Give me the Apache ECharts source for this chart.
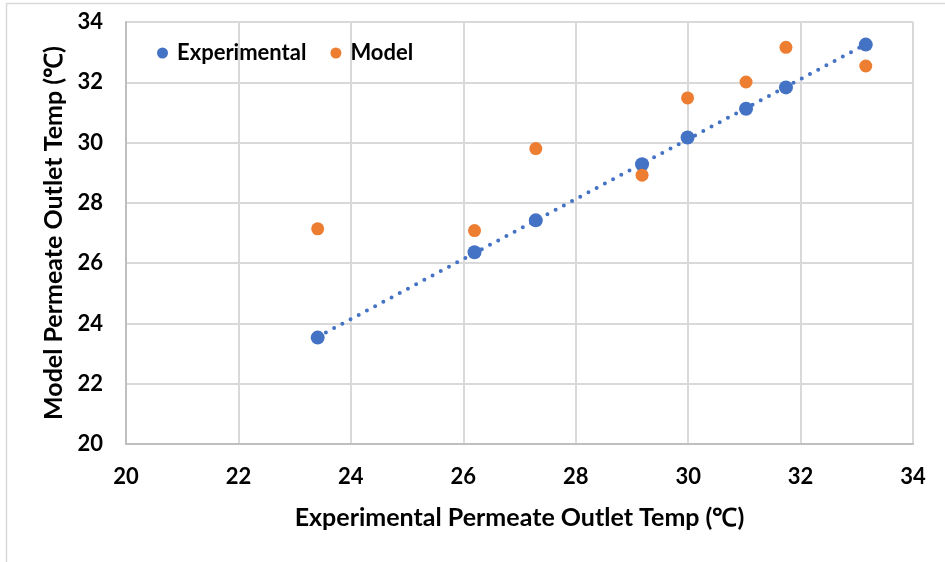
<!DOCTYPE html>
<html>
<head>
<meta charset="utf-8">
<script src="https://cdn.jsdelivr.net/npm/echarts@6/dist/echarts.min.js"></script>
<style>
  html, body { margin: 0; padding: 0; background: #fff; }
  #chart { width: 945px; height: 562px; }
</style>
</head>
<body>
<div id="chart"></div>
<script>
// Measured permeate outlet temperatures (°C)
var expTemp = [23.41, 26.20, 27.29, 29.18, 29.99, 31.03, 31.74, 33.16];
// Experimental series plotted against itself
var expSeriesY = [23.53, 26.36, 27.42, 29.28, 30.17, 31.12, 31.83, 33.25];
// Model predictions at the same operating points
var modelTemp = [27.14, 27.08, 29.80, 28.92, 31.48, 32.01, 33.16, 32.54];

var axisTicks = [20, 22, 24, 26, 28, 30, 32, 34];

var FONT = 'Lato, "Open Sans", sans-serif';

function pairs(xs, ys) {
  return xs.map(function (x, i) { return [x, ys[i]]; });
}

// Least-squares linear trend of the experimental series
function linearTrend(xs, ys) {
  var n = xs.length, sx = 0, sy = 0, sxx = 0, sxy = 0;
  for (var i = 0; i < n; i++) {
    sx += xs[i]; sy += ys[i]; sxx += xs[i] * xs[i]; sxy += xs[i] * ys[i];
  }
  var slope = (n * sxy - sx * sy) / (n * sxx - sx * sx);
  var icpt = (sy - slope * sx) / n;
  var x0 = Math.min.apply(null, xs), x1 = Math.max.apply(null, xs);
  return [[x0, slope * x0 + icpt], [x1, slope * x1 + icpt]];
}

var chart = echarts.init(document.getElementById('chart'), null, { renderer: 'canvas' });

var tickLabel = { fontFamily: FONT, fontWeight: 'bold', fontSize: 22, color: '#000' };
var titleStyle = { fontFamily: FONT, fontWeight: 'bold', fontSize: 25, color: '#000' };

chart.setOption({
  backgroundColor: '#fff',
  animation: false,
  graphic: [{
    type: 'rect',
    shape: { x: 6.5, y: 3.5, width: 1000, height: 700 },
    style: { fill: 'none', stroke: '#d9d9d9', lineWidth: 1.5 },
    silent: true,
    z: -10
  }],
  grid: { left: 126, right: 32, top: 22, bottom: 118 },
  legend: {
    left: 152,
    top: 37,
    icon: 'circle',
    itemWidth: 11,
    itemHeight: 11,
    itemGap: 24,
    data: ['Experimental', 'Model'],
    textStyle: { fontFamily: FONT, fontWeight: 'bold', fontSize: 22, color: '#000', padding: [0, 0, 0, 4] }
  },
  xAxis: {
    type: 'value',
    min: axisTicks[0],
    max: axisTicks[axisTicks.length - 1],
    interval: 2,
    name: 'Experimental Permeate Outlet Temp (℃)',
    nameLocation: 'middle',
    nameGap: 61,
    nameTextStyle: titleStyle,
    axisLine: { show: true, lineStyle: { color: '#bfbfbf', width: 2 } },
    axisTick: { show: false },
    axisLabel: Object.assign({ margin: 22 }, tickLabel),
    splitLine: { show: true, lineStyle: { color: '#d9d9d9', width: 2 } }
  },
  yAxis: {
    type: 'value',
    min: axisTicks[0],
    max: axisTicks[axisTicks.length - 1],
    interval: 2,
    name: 'Model Permeate Outlet Temp (℃)',
    nameLocation: 'middle',
    nameGap: 55,
    nameTextStyle: titleStyle,
    axisLine: { show: true, lineStyle: { color: '#bfbfbf', width: 2 } },
    axisTick: { show: false },
    axisLabel: Object.assign({ margin: 23 }, tickLabel),
    splitLine: { show: true, lineStyle: { color: '#d9d9d9', width: 2 } }
  },
  series: [
    {
      name: 'Experimental',
      type: 'scatter',
      symbol: 'circle',
      symbolSize: 14,
      itemStyle: { color: '#4472C4', opacity: 1 },
      data: pairs(expTemp, expSeriesY),
      z: 2
    },
    {
      name: 'Model',
      type: 'scatter',
      symbol: 'circle',
      symbolSize: 13,
      itemStyle: { color: '#ED7D31', opacity: 1 },
      data: pairs(expTemp, modelTemp),
      z: 3
    },
    {
      name: 'Linear (Experimental)',
      type: 'line',
      showSymbol: false,
      symbol: 'none',
      silent: true,
      data: linearTrend(expTemp, expSeriesY),
      lineStyle: { color: '#4472C4', width: 4, type: [0, 9.3], cap: 'round' },
      z: 4
    }
  ]
});
</script>
</body>
</html>
